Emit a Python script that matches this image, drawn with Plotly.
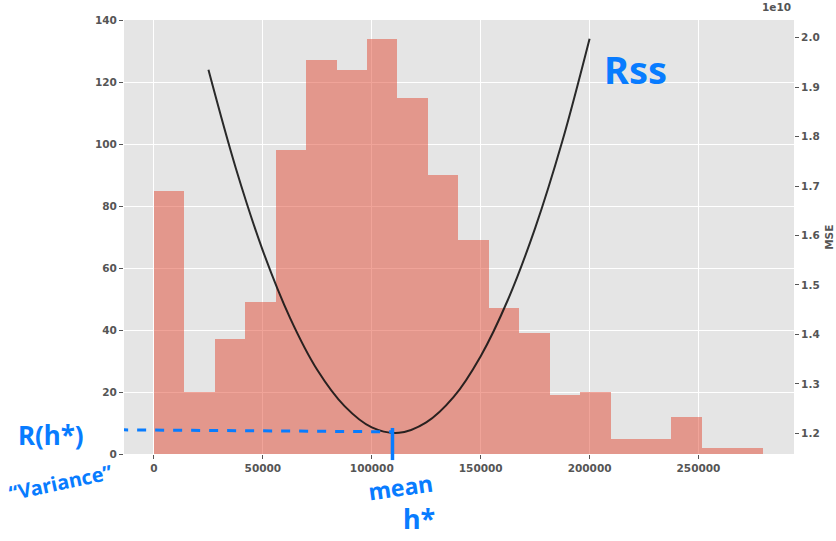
import plotly.graph_objects as go

# ---- data ----
bin_start = 0
bin_width = 13975
counts = [85, 20, 37, 49, 98, 127, 124, 134, 115, 90,
          69, 47, 39, 19, 20, 5, 5, 12, 2, 2]

h_values = [25000, 37500, 50000, 62500, 75000, 87500, 100000, 112500,
            125000, 137500, 150000, 162500, 175000, 187500, 200000]
mse_values = [1.935, 1.737, 1.569, 1.433, 1.328, 1.255, 1.212, 1.201,
              1.222, 1.273, 1.356, 1.470, 1.615, 1.791, 1.998]  # x 1e10

mean_h = 109500
variance = 1.203  # x 1e10

x_ticks = [0, 50000, 100000, 150000, 200000, 250000]
y_ticks = [0, 20, 40, 60, 80, 100, 120, 140]
y2_ticks = [1.2, 1.3, 1.4, 1.5, 1.6, 1.7, 1.8, 1.9, 2.0]
y2_ticktext = ["1.2", "1.3", "1.4", "1.5", "1.6", "1.7", "1.8", "1.9", "2.0"]

bin_lefts = [bin_start + i * bin_width for i in range(len(counts))]

BLUE = "rgb(8,124,255)"
TICKFONT = dict(family="DejaVu Sans", size=10.5, color="#555555", weight="bold")

fig = go.Figure()
fig.add_trace(go.Bar(
    x=bin_lefts, y=counts, width=[bin_width] * len(counts), offset=0,
    marker=dict(color="rgba(226,74,51,0.5)", line=dict(width=0)),
    hoverinfo="skip", showlegend=False,
))
fig.add_trace(go.Scatter(
    x=h_values, y=mse_values, yaxis="y2", mode="lines",
    line=dict(color="rgba(20,20,20,0.9)", width=2, shape="spline"),
    showlegend=False,
))

fig.update_layout(
    width=836, height=541,
    margin=dict(l=124, r=42, t=20, b=87, autoexpand=False),
    paper_bgcolor="white", plot_bgcolor="#E5E5E5",
    bargap=0,
    xaxis=dict(range=[-13770, 293850], tickvals=x_ticks,
               ticktext=[str(v) for v in x_ticks], automargin=False,
               showgrid=True, gridcolor="white", gridwidth=1, zeroline=False,
               ticks="outside", ticklen=4, tickcolor="#555555",
               tickfont=TICKFONT, showline=False),
    yaxis=dict(range=[0, 140], tickvals=y_ticks, automargin=False,
               showgrid=True, gridcolor="white", gridwidth=1, zeroline=False,
               ticks="outside", ticklen=4, tickcolor="#555555",
               tickfont=TICKFONT, showline=False),
    yaxis2=dict(range=[1.1581, 2.0358], overlaying="y", side="right",
                tickvals=y2_ticks, ticktext=y2_ticktext, showgrid=False,
                automargin=False,
                zeroline=False, ticks="outside", ticklen=4, tickcolor="#555555",
                tickfont=TICKFONT),
    font=dict(family="DejaVu Sans"),
)

# exponent label and right axis title
fig.add_annotation(text="1e10", xref="paper", yref="paper", x=0.998, y=1.012,
                   xanchor="right", yanchor="bottom", showarrow=False,
                   font=TICKFONT)
fig.add_annotation(text="MSE", xref="paper", yref="paper", x=1.052, y=0.5,
                   xanchor="center", yanchor="middle",
                   textangle=-90, showarrow=False, font=TICKFONT)

# hand-drawn style annotations
fig.add_shape(type="line", xref="x", yref="y2", x0=-16000, x1=mean_h,
              y0=variance + 0.004, y1=variance, line=dict(color=BLUE, width=3, dash="dash"))
fig.add_shape(type="line", xref="x", yref="paper", x0=mean_h, x1=mean_h,
              y0=-0.014, y1=0.06, line=dict(color=BLUE, width=3.5))

hand = dict(family="Noto Sans", color=BLUE, weight="bold")
ann = dict(xref="paper", yref="paper", xanchor="center", yanchor="middle", showarrow=False)
fig.add_annotation(text="R(h*)", x=-0.109, y=0.044, font=dict(size=26, **hand), **ann)
fig.add_annotation(text="\u201cVariance\u201d", x=-0.095, y=-0.066, textangle=-12,
                   font=dict(size=20, **hand), **ann)
fig.add_annotation(text="mean", x=0.413, y=-0.075, textangle=-8,
                   font=dict(size=23, **hand), **ann)
fig.add_annotation(text="h*", x=0.44, y=-0.148, font=dict(size=27, **hand), **ann)
fig.add_annotation(text="Rss", x=0.764, y=0.888, font=dict(size=38, **hand), **ann)

fig.write_html("out.html", post_script="document.body.style.margin='0';",
               config={"displayModeBar": False})
